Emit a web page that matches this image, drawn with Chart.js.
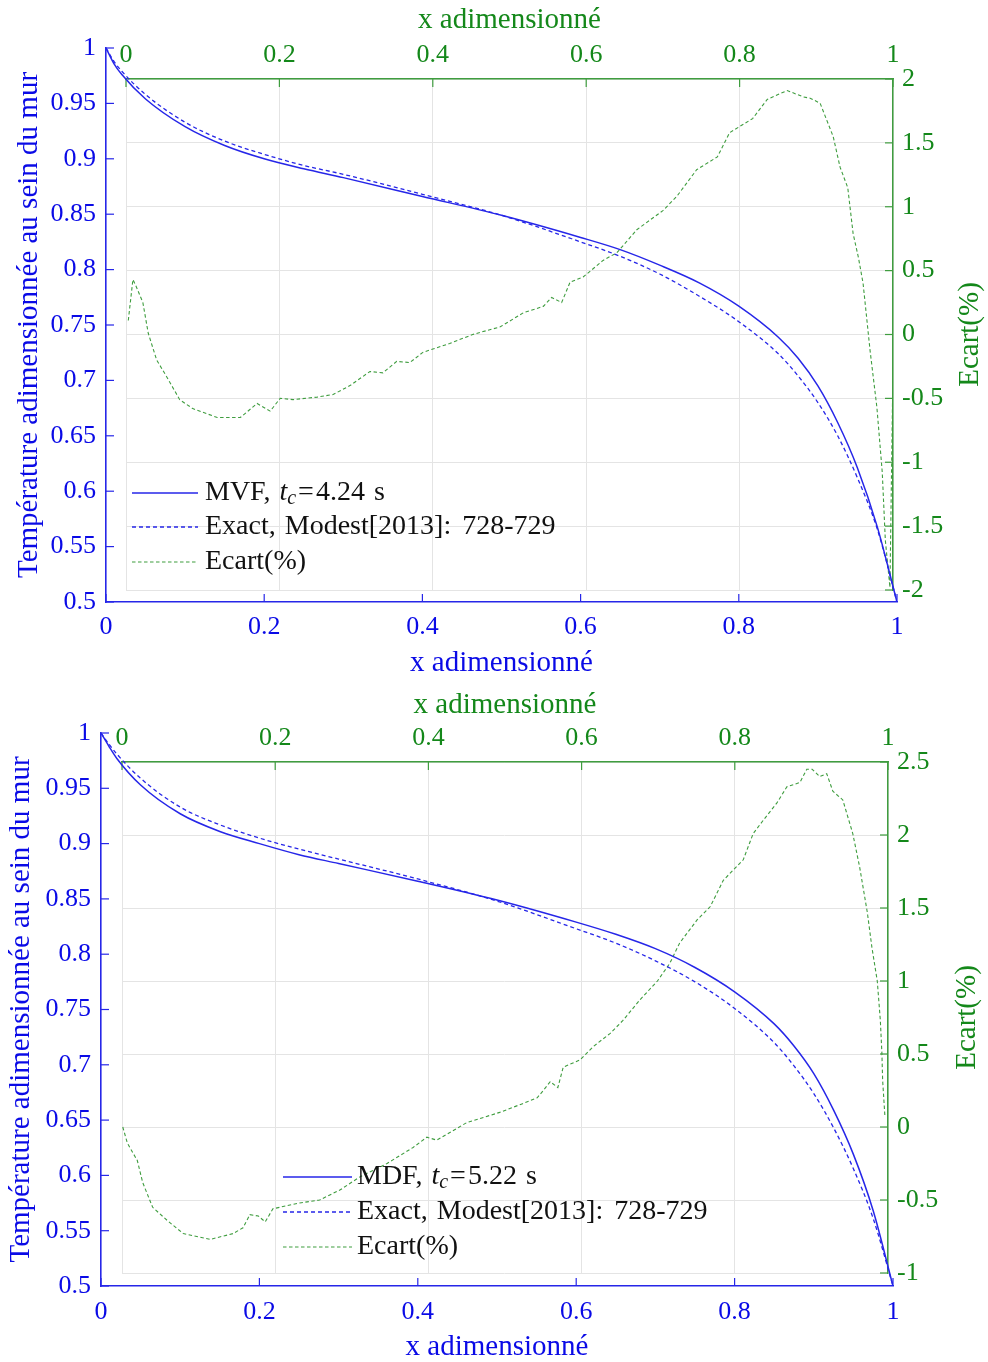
<!DOCTYPE html>
<html>
<head>
<meta charset="utf-8">
<script src="https://cdn.jsdelivr.net/npm/chart.js@4.4.1/dist/chart.umd.min.js"></script>
<style>
  html, body { margin: 0; padding: 0; background: #fff; }
  .panel { position: absolute; left: 0; width: 988px; height: 681px; }
  .panel canvas { position: absolute; left: 0; top: 0; }
</style>
</head>
<body>
<div class="panel" style="top:0">
  <canvas id="gTop" width="988" height="681"></canvas>
  <canvas id="bTop" width="988" height="681"></canvas>
</div>
<div class="panel" style="top:681px">
  <canvas id="gBot" width="988" height="681"></canvas>
  <canvas id="bBot" width="988" height="681"></canvas>
</div>
<script>
// ---- data ----
// upper panel : MVF vs exact solution
const xTop = [0, 0.01, 0.02, 0.05, 0.1, 0.15, 0.2, 0.25, 0.3, 0.4, 0.5, 0.6, 0.65, 0.7, 0.75, 0.8, 0.85, 0.875, 0.9, 0.925, 0.95, 0.975, 1];
const mvfTop = [1.0, 0.986, 0.976, 0.954, 0.929, 0.912, 0.900, 0.891, 0.883, 0.866, 0.849, 0.829, 0.818, 0.804, 0.788, 0.767, 0.739, 0.720, 0.695, 0.662, 0.621, 0.568, 0.5];
const exactTop = [1.0, 0.988, 0.979, 0.958, 0.933, 0.916, 0.904, 0.894, 0.886, 0.868, 0.849, 0.825, 0.812, 0.796, 0.776, 0.753, 0.724, 0.704, 0.680, 0.650, 0.612, 0.566, 0.5];
const ecartXTop = [0.003, 0.009, 0.013, 0.022, 0.029, 0.040, 0.053, 0.070, 0.087, 0.119, 0.149, 0.171, 0.188, 0.201, 0.218, 0.249, 0.270, 0.292, 0.318, 0.335, 0.353, 0.370, 0.387, 0.422, 0.452, 0.488, 0.518, 0.544, 0.555, 0.568, 0.579, 0.596, 0.622, 0.640, 0.666, 0.700, 0.718, 0.744, 0.771, 0.787, 0.817, 0.836, 0.862, 0.883, 0.892, 0.905, 0.922, 0.931, 0.941, 0.948, 0.955, 0.961, 0.970, 0.979, 0.986, 0.990, 0.996, 1.000];
const ecartTop = [0.11, 0.43, 0.38, 0.25, 0.01, -0.20, -0.33, -0.51, -0.58, -0.65, -0.65, -0.54, -0.60, -0.50, -0.51, -0.49, -0.47, -0.40, -0.29, -0.30, -0.21, -0.22, -0.14, -0.07, 0.00, 0.06, 0.17, 0.22, 0.29, 0.25, 0.41, 0.45, 0.58, 0.64, 0.82, 0.97, 1.08, 1.29, 1.39, 1.58, 1.69, 1.84, 1.91, 1.86, 1.85, 1.81, 1.55, 1.31, 1.15, 0.79, 0.60, 0.40, -0.12, -0.57, -1.08, -1.61, -1.98, -0.25];

// lower panel : MDF vs exact solution
const xBot = [0, 0.01, 0.02, 0.05, 0.1, 0.15, 0.2, 0.25, 0.3, 0.4, 0.5, 0.6, 0.65, 0.7, 0.75, 0.8, 0.85, 0.875, 0.9, 0.925, 0.95, 0.975, 1];
const mdfBot = [1.0, 0.988, 0.977, 0.953, 0.927, 0.911, 0.900, 0.890, 0.882, 0.866, 0.849, 0.829, 0.818, 0.805, 0.788, 0.766, 0.737, 0.717, 0.692, 0.659, 0.619, 0.568, 0.5];
const exactBot = [1.0, 0.990, 0.981, 0.959, 0.933, 0.917, 0.905, 0.895, 0.886, 0.868, 0.848, 0.823, 0.810, 0.794, 0.775, 0.751, 0.720, 0.699, 0.674, 0.643, 0.606, 0.561, 0.5];
const ecartXBot = [0.001, 0.007, 0.020, 0.027, 0.040, 0.059, 0.080, 0.115, 0.145, 0.158, 0.167, 0.178, 0.187, 0.197, 0.232, 0.258, 0.285, 0.311, 0.346, 0.380, 0.398, 0.411, 0.450, 0.493, 0.523, 0.542, 0.550, 0.559, 0.569, 0.576, 0.598, 0.615, 0.637, 0.654, 0.676, 0.699, 0.715, 0.728, 0.751, 0.768, 0.785, 0.811, 0.824, 0.837, 0.855, 0.868, 0.885, 0.894, 0.901, 0.911, 0.920, 0.928, 0.941, 0.954, 0.963, 0.973, 0.979, 0.986, 0.990, 0.992, 0.993, 0.996];
const ecartBot = [0.00, -0.11, -0.23, -0.38, -0.55, -0.64, -0.73, -0.77, -0.73, -0.69, -0.60, -0.61, -0.65, -0.56, -0.52, -0.50, -0.43, -0.34, -0.25, -0.14, -0.07, -0.09, 0.03, 0.10, 0.16, 0.20, 0.25, 0.31, 0.27, 0.41, 0.46, 0.55, 0.64, 0.73, 0.87, 1.00, 1.12, 1.26, 1.42, 1.51, 1.69, 1.83, 2.01, 2.10, 2.22, 2.33, 2.36, 2.45, 2.45, 2.40, 2.42, 2.30, 2.24, 2.01, 1.78, 1.47, 1.23, 1.00, 0.73, 0.51, 0.32, 0.07];

// ---- styles ----
const BLUE = '#0a0ae6';
const BLUE_LINE = '#2626e8';
const GREEN = '#14881a';
const GREEN_LINE = '#3f9d3f';
const GRID = '#e4e4e4';
const SERIF = "'Liberation Serif', 'Times New Roman', serif";

const pts = (xs, ys) => xs.map((x, i) => ({ x, y: ys[i] }));
const fmt = v => String(Math.round(v * 100) / 100);

// MATLAB style ticks, pointing into the axes box
const inwardTicks = {
  id: 'inwardTicks',
  afterDatasetsDraw(chart) {
    const { ctx, chartArea: a } = chart;
    ctx.save();
    ctx.lineWidth = 1.2;
    for (const s of Object.values(chart.scales)) {
      ctx.strokeStyle = s.options.border.color;
      s.ticks.forEach((t, i) => {
        const p = s.getPixelForTick(i);
        ctx.beginPath();
        if (s.position === 'bottom') { ctx.moveTo(p, a.bottom); ctx.lineTo(p, a.bottom - 8); }
        else if (s.position === 'top') { ctx.moveTo(p, a.top); ctx.lineTo(p, a.top + 8); }
        else if (s.position === 'left') { ctx.moveTo(a.left, p); ctx.lineTo(a.left + 8, p); }
        else { ctx.moveTo(a.right, p); ctx.lineTo(a.right - 8, p); }
        ctx.stroke();
      });
    }
    ctx.restore();
  }
};

// right hand label, read bottom to top like the left one
function sideTitle(text, cx, cy) {
  return {
    id: 'sideTitle',
    afterDraw(chart) {
      const ctx = chart.ctx;
      ctx.save();
      ctx.translate(cx, cy);
      ctx.rotate(-Math.PI / 2);
      ctx.font = '29px ' + SERIF;
      ctx.fillStyle = GREEN;
      ctx.textAlign = 'center';
      ctx.textBaseline = 'middle';
      ctx.fillText(text, 0, 0);
      ctx.restore();
    }
  };
}

// legend with the latex-like t_c subscript
function lineLegend(o) {
  return {
    id: 'lineLegend',
    afterDraw(chart) {
      const ctx = chart.ctx;
      ctx.save();
      o.entries.forEach((e, i) => {
        const y = o.rows[i];
        ctx.strokeStyle = e.color;
        ctx.lineWidth = e.width;
        ctx.setLineDash(e.dash);
        ctx.beginPath();
        ctx.moveTo(o.x0, y);
        ctx.lineTo(o.x1, y);
        ctx.stroke();
        ctx.setLineDash([]);
        let x = o.tx;
        ctx.fillStyle = '#111';
        ctx.textBaseline = 'middle';
        ctx.textAlign = 'left';
        e.parts.forEach(p => {
          const size = p.sub ? 20 : 28;
          ctx.font = (p.it ? 'italic ' : '') + size + 'px ' + SERIF;
          ctx.fillText(p.t, x + (p.pre || 0), y + (p.sub ? 6 : 0));
          x += ctx.measureText(p.t).width + (p.pre || 0) + (p.post || 0);
        });
      });
      ctx.restore();
    }
  };
}

function legendParts(name, tc) {
  return [
    { t: name + ',', post: 9 },
    { t: 't', it: true },
    { t: 'c', it: true, sub: true },
    { t: '=', pre: 2, post: 2 },
    { t: tc, post: 9 },
    { t: 's' }
  ];
}

function greenChart(id, g, xs, ys, yMin, yMax) {
  return new Chart(document.getElementById(id), {
    type: 'line',
    data: {
      datasets: [{
        label: 'Ecart(%)',
        data: pts(xs, ys),
        borderColor: GREEN_LINE,
        borderWidth: 1.1,
        borderDash: [3.5, 2.5],
        pointRadius: 0,
        tension: 0,
        fill: false
      }]
    },
    options: {
      responsive: false,
      animation: false,
      events: [],
      layout: { padding: { left: g.L, right: 0, top: 0, bottom: 681 - g.B } },
      plugins: { legend: { display: false }, tooltip: { enabled: false } },
      scales: {
        x: {
          type: 'linear', position: 'top', min: 0, max: 1,
          afterFit: s => { s.height = g.T; },
          grid: { display: true, color: GRID, lineWidth: 1, drawTicks: false },
          border: { display: true, color: GREEN_LINE, width: 1.5 },
          ticks: { stepSize: 0.2, color: GREEN, padding: 8, font: { family: SERIF, size: 26 }, callback: fmt },
          title: { display: true, text: 'x adimensionné', color: GREEN, font: { family: SERIF, size: 29, lineHeight: 1 }, padding: { top: g.tt, bottom: 0 } }
        },
        y: {
          type: 'linear', position: 'right', min: yMin, max: yMax,
          afterFit: s => { s.width = 988 - g.R; },
          grid: { display: true, color: GRID, lineWidth: 1, drawTicks: false },
          border: { display: true, color: GREEN_LINE, width: 1.5 },
          ticks: { stepSize: 0.5, color: GREEN, padding: 9, font: { family: SERIF, size: 26 }, callback: fmt }
        }
      }
    },
    plugins: [inwardTicks, sideTitle('Ecart(%)', g.rx, (g.T + g.B) / 2)]
  });
}

function blueChart(id, b, xs, model, exact, leg) {
  return new Chart(document.getElementById(id), {
    type: 'line',
    data: {
      datasets: [
        { label: leg.model, data: pts(xs, model), borderColor: BLUE_LINE, borderWidth: 1.5, pointRadius: 0, cubicInterpolationMode: 'monotone', fill: false },
        { label: 'Exact, Modest[2013]: 728-729', data: pts(xs, exact), borderColor: BLUE_LINE, borderWidth: 1.3, borderDash: [4, 3], pointRadius: 0, cubicInterpolationMode: 'monotone', fill: false }
      ]
    },
    options: {
      responsive: false,
      animation: false,
      events: [],
      layout: { padding: { left: 0, right: 988 - b.R, top: b.T, bottom: 0 } },
      plugins: { legend: { display: false }, tooltip: { enabled: false } },
      scales: {
        x: {
          type: 'linear', position: 'bottom', min: 0, max: 1,
          afterFit: s => { s.height = 681 - b.B; },
          grid: { display: false, drawTicks: false },
          border: { display: true, color: BLUE_LINE, width: 1.6 },
          ticks: { stepSize: 0.2, color: BLUE, padding: b.xp, font: { family: SERIF, size: 26 }, callback: fmt },
          title: { display: true, text: 'x adimensionné', color: BLUE, font: { family: SERIF, size: 29, lineHeight: 1 }, padding: { top: 0, bottom: b.bt } }
        },
        y: {
          type: 'linear', position: 'left', min: 0.5, max: 1,
          afterFit: s => { s.width = b.L; },
          grid: { display: false, drawTicks: false },
          border: { display: true, color: BLUE_LINE, width: 1.6 },
          ticks: { stepSize: 0.05, color: BLUE, padding: 10, font: { family: SERIF, size: 26 }, callback: fmt },
          title: { display: true, text: 'Température adimensionnée au sein du mur', color: BLUE, font: { family: SERIF, size: 29, lineHeight: 1 }, padding: { top: b.lt, bottom: 0 } }
        }
      }
    },
    plugins: [inwardTicks, lineLegend({
      x0: leg.x0, x1: leg.x1, tx: leg.tx, rows: leg.rows,
      entries: [
        { color: BLUE_LINE, width: 1.5, dash: [], parts: legendParts(leg.name, leg.tc) },
        { color: BLUE_LINE, width: 1.3, dash: [4, 3], parts: [{ t: 'Exact,', post: 9 }, { t: 'Modest[2013]:', post: 11 }, { t: '728-729' }] },
        { color: GREEN_LINE, width: 1.1, dash: [3.5, 2.5], parts: [{ t: 'Ecart(%)' }] }
      ]
    })]
  });
}

// upper panel
greenChart('gTop', { L: 126, R: 893, T: 79, B: 590, tt: 5.5, rx: 970 }, ecartXTop, ecartTop, -2, 2);
blueChart('bTop', { L: 106, R: 897, T: 48, B: 602, xp: 10, bt: 3.5, lt: 14.5 }, xTop, mvfTop, exactTop,
  { model: 'MVF, t_c=4.24 s', name: 'MVF', tc: '4.24', x0: 132, x1: 198, tx: 205, rows: [493, 527, 562] });

// lower panel
greenChart('gBot', { L: 122, R: 888, T: 81, B: 592, tt: 9.5, rx: 967 }, ecartXBot, ecartBot, -1, 2.5);
blueChart('bBot', { L: 101, R: 893, T: 52, B: 605, xp: 11, bt: 0.5, lt: 6.5 }, xBot, mdfBot, exactBot,
  { model: 'MDF, t_c=5.22 s', name: 'MDF', tc: '5.22', x0: 283, x1: 352, tx: 357, rows: [496, 531, 566] });
</script>
</body>
</html>
